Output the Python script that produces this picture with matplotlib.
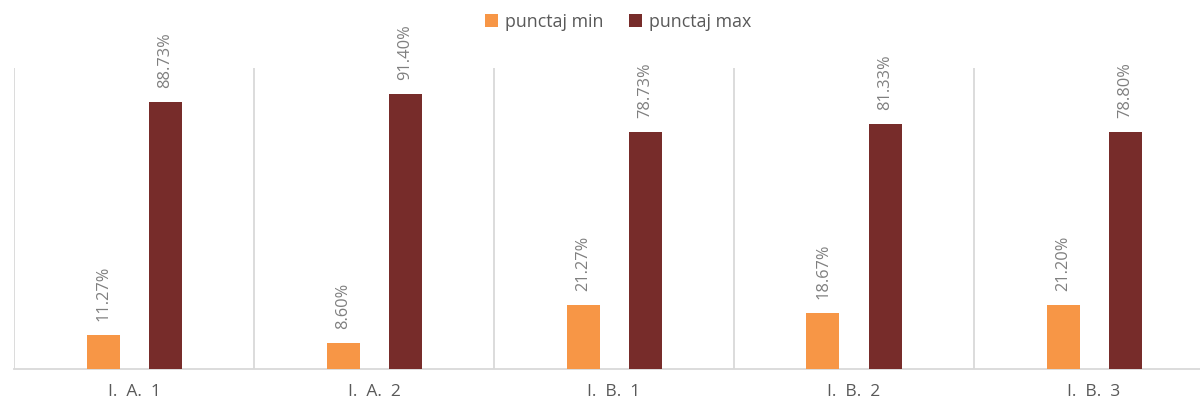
import matplotlib
matplotlib.use("Agg")
import matplotlib.pyplot as plt
import numpy as np

categories = ["I.  A.  1", "I.  A.  2", "I.  B.  1", "I.  B.  2", "I.  B.  3"]
series_names = ["punctaj min", "punctaj max"]
punctaj_min = [11.27, 8.60, 21.27, 18.67, 21.20]
punctaj_max = [88.73, 91.40, 78.73, 81.33, 78.80]
colors = ["#F79646", "#772C2A"]

plt.rcParams['font.family'] = ['Open Sans', 'DejaVu Sans']

W, H = 1200, 401
fig = plt.figure(figsize=(W/100, H/100), dpi=100)
left, right, bottom, top = 14, 1214, 369, 68
ax = fig.add_axes([left/W, (H-bottom)/H, (right-left)/W, (bottom-top)/H])

x = np.arange(len(categories))
bw = 33/240
off = 31/240
vals = [punctaj_min, punctaj_max]
for i, (name, v, c) in enumerate(zip(series_names, vals, colors)):
    pos = x + (-off if i == 0 else off)
    ax.bar(pos, v, width=bw, color=c, label=name, zorder=3)
    for xp, val in zip(pos, v):
        ax.text(xp, val + 4.6, f"{val:.2f}%", rotation=90, ha='center', va='bottom',
                fontsize=11.8, color='#7F7F7F')

ax.set_xlim(-0.5, len(categories) - 0.5)
ax.set_ylim(0, 100)
for b in np.arange(len(categories) + 1) - 0.5:
    ax.axvline(b, color='#D9D9D9', lw=1.3, zorder=1)
for s in ['top', 'right', 'left']:
    ax.spines[s].set_visible(False)
ax.spines['bottom'].set_color('#D9D9D9')
ax.spines['bottom'].set_linewidth(1.3)
ax.set_yticks([])
ax.set_xticks(x)
ax.set_xticklabels(categories, fontsize=12.5, color='#595959')
ax.tick_params(axis='x', length=0, pad=11)

leg = fig.legend(loc='center', bbox_to_anchor=(0.515, 1 - 22/H), ncol=2, frameon=False,
                 fontsize=12.8, handlelength=0.75, handleheight=0.75, handletextpad=0.4,
                 columnspacing=1.4)
for t in leg.get_texts():
    t.set_color('#595959')

fig.savefig("out.png", dpi=100)
